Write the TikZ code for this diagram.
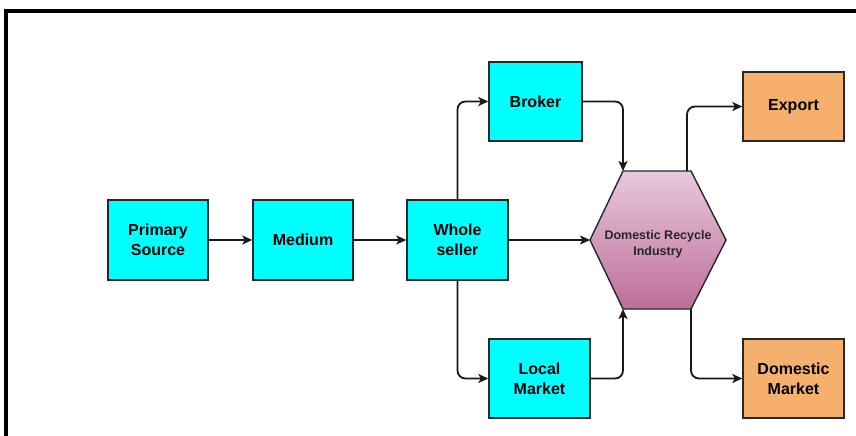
\documentclass[tikz,border=0pt]{standalone}
\usepackage{fontspec}
\setmainfont{Liberation Sans}
\usetikzlibrary{arrows.meta,calc}
\definecolor{boxcyan}{RGB}{0,255,255}
\definecolor{boxorange}{RGB}{244,176,108}
\definecolor{edgegray}{RGB}{40,40,40}
\definecolor{hextop}{RGB}{233,200,222}
\definecolor{hexbot}{RGB}{188,110,152}
\tikzset{
  x=1pt, y=-1pt,
  stage/.style={draw=edgegray, line width=1.4pt, fill=boxcyan, align=center,
    inner sep=0pt, font=\bfseries\fontsize{16}{20}\selectfont},
  outlet/.style={stage, fill=boxorange},
  flow/.style={draw=black!90, line width=1.8pt, rounded corners=8pt,
    -{Stealth[length=10pt,width=9pt,inset=2.5pt]}},
  frame/.style={draw=black, line width=4pt}
}
\begin{document}
\begin{tikzpicture}
\useasboundingbox (0,0) rectangle (856,436);
\fill[white] (0,0) rectangle (856,436);
% outer frame (top and left edges)
\draw[frame] (4,11) -- (856,11);
\draw[frame] (6,9) -- (6,436);

% process boxes
\node[stage, minimum width=100pt, minimum height=80pt] (src) at (158,240) {Primary\\Source};
\node[stage, minimum width=100pt, minimum height=80pt] (med) at (303,240) {Medium};
\node[stage, minimum width=101pt, minimum height=80pt] (whl) at (457.5,240) {Whole\\seller};
\node[stage, minimum width=93pt, minimum height=79pt] (brk) at (535.5,101.5) {Broker};
\node[stage, minimum width=101pt, minimum height=79pt] (loc) at (539.5,378.5) {Local\\Market};
\node[outlet, minimum width=101pt, minimum height=69pt] (exp) at (793.5,106.5) {Export};
\node[outlet, minimum width=101pt, minimum height=79pt] (dom) at (793.5,378.5) {Domestic\\Market};

% recycling industry hexagon
\coordinate (hl) at (590,240);
\coordinate (hr) at (726,240);
\coordinate (htl) at (623,171);
\coordinate (htr) at (691,171);
\coordinate (hbl) at (623,309);
\coordinate (hbr) at (691,309);
\coordinate (hto) at (687,171);
\path[top color=hextop, bottom color=hexbot, draw=edgegray, line width=1.4pt]
  (hl) -- (htl) -- (htr) -- (hr) -- (hbr) -- (hbl) -- cycle;
\node[align=center, font=\bfseries\fontsize{12.5}{16}\selectfont, text=black!85] (dri) at (658,244) {Domestic Recycle\\Industry};

% flows
\draw[flow] (src.east) -- (med.west);
\draw[flow] (med.east) -- (whl.west);
\draw[flow] (whl.east) -- (hl);
\draw[flow] (whl.north) |- (brk.west);
\draw[flow] (whl.south) |- (loc.west);
\draw[flow] (brk.east) -| (htl);
\draw[flow] (loc.east) -| (hbl);
\draw[flow] (hto) |- (exp.west);
\draw[flow] (hbr) |- (dom.west);
\end{tikzpicture}
\end{document}
